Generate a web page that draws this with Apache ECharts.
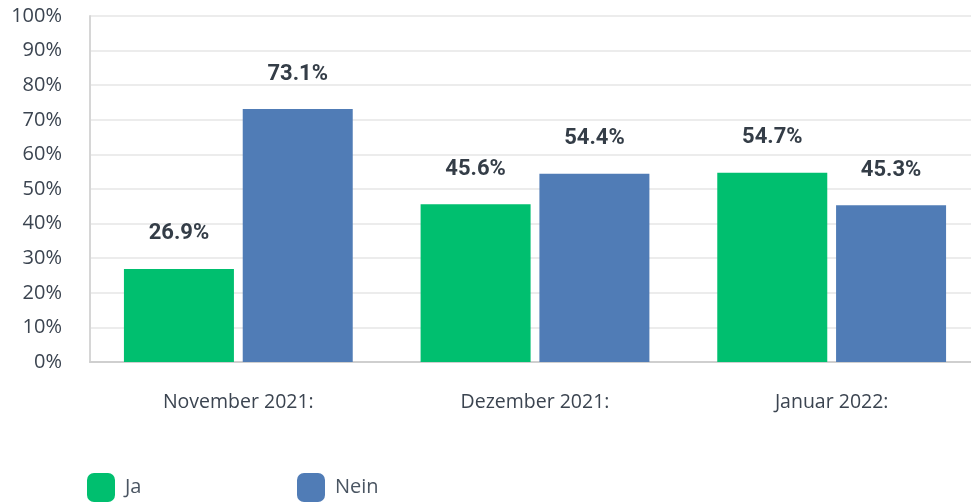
<!DOCTYPE html>
<html><head><meta charset="utf-8">
<script src="https://cdn.jsdelivr.net/npm/echarts@6/dist/echarts.min.js"></script>
<style>html,body{margin:0;padding:0;background:#fff;overflow:hidden;width:971px;height:504px}#c{width:980px;height:504px}</style>
</head><body><div id="c"></div>
<script>
const categories = ['November 2021:', 'Dezember 2021:', 'Januar 2022:'];
const jaValues = [26.9, 45.6, 54.7];
const neinValues = [73.1, 54.4, 45.3];
const yTicks = [0, 10, 20, 30, 40, 50, 60, 70, 80, 90, 100];

const chart = echarts.init(document.getElementById('c'));
const labelStyle = {
  show: true, position: 'top', distance: 24,
  formatter: p => p.value.toFixed(1) + '%',
  fontFamily: 'Roboto', fontWeight: 'bold', fontSize: 22, color: '#343d47'
};
const legendBase = {
  top: 473, padding: 0, itemWidth: 28, itemHeight: 29, icon: 'roundRect', itemGap: 10,
  textStyle: { fontFamily: 'Open Sans', fontSize: 20, color: '#4a5562', padding: [0,0,0,5] }
};
chart.setOption({
  animation: false,
  color: ['#00bf6f', '#507cb6'],
  grid: { left: 90, right: 0, top: 16, bottom: 142 },
  legend: [
    Object.assign({ left: 87, data: ['Ja'] }, legendBase),
    Object.assign({ left: 297, data: ['Nein'] }, legendBase)
  ],
  xAxis: {
    type: 'category', data: categories,
    axisLine: { show: true, lineStyle: { color: '#cfcfcf', width: 2 } },
    axisTick: { show: false },
    axisLabel: { margin: 30, fontFamily: 'Open Sans', fontSize: 19.5, color: '#3b4450' }
  },
  yAxis: {
    type: 'value', min: yTicks[0], max: yTicks[yTicks.length - 1], interval: 10,
    axisLine: { show: true, lineStyle: { color: '#d6d6d6', width: 2 } },
    axisTick: { show: false },
    splitLine: { lineStyle: { color: '#ececec', width: 2 } },
    axisLabel: { margin: 28, formatter: '{value}%', fontFamily: 'Open Sans', fontSize: 20, color: '#3b4450' }
  },
  series: [
    { name: 'Ja', type: 'bar', data: jaValues, barWidth: 110, barGap: '8%', label: labelStyle },
    { name: 'Nein', type: 'bar', data: neinValues, barWidth: 110, barGap: '8%', label: labelStyle }
  ]
});
</script></body></html>
